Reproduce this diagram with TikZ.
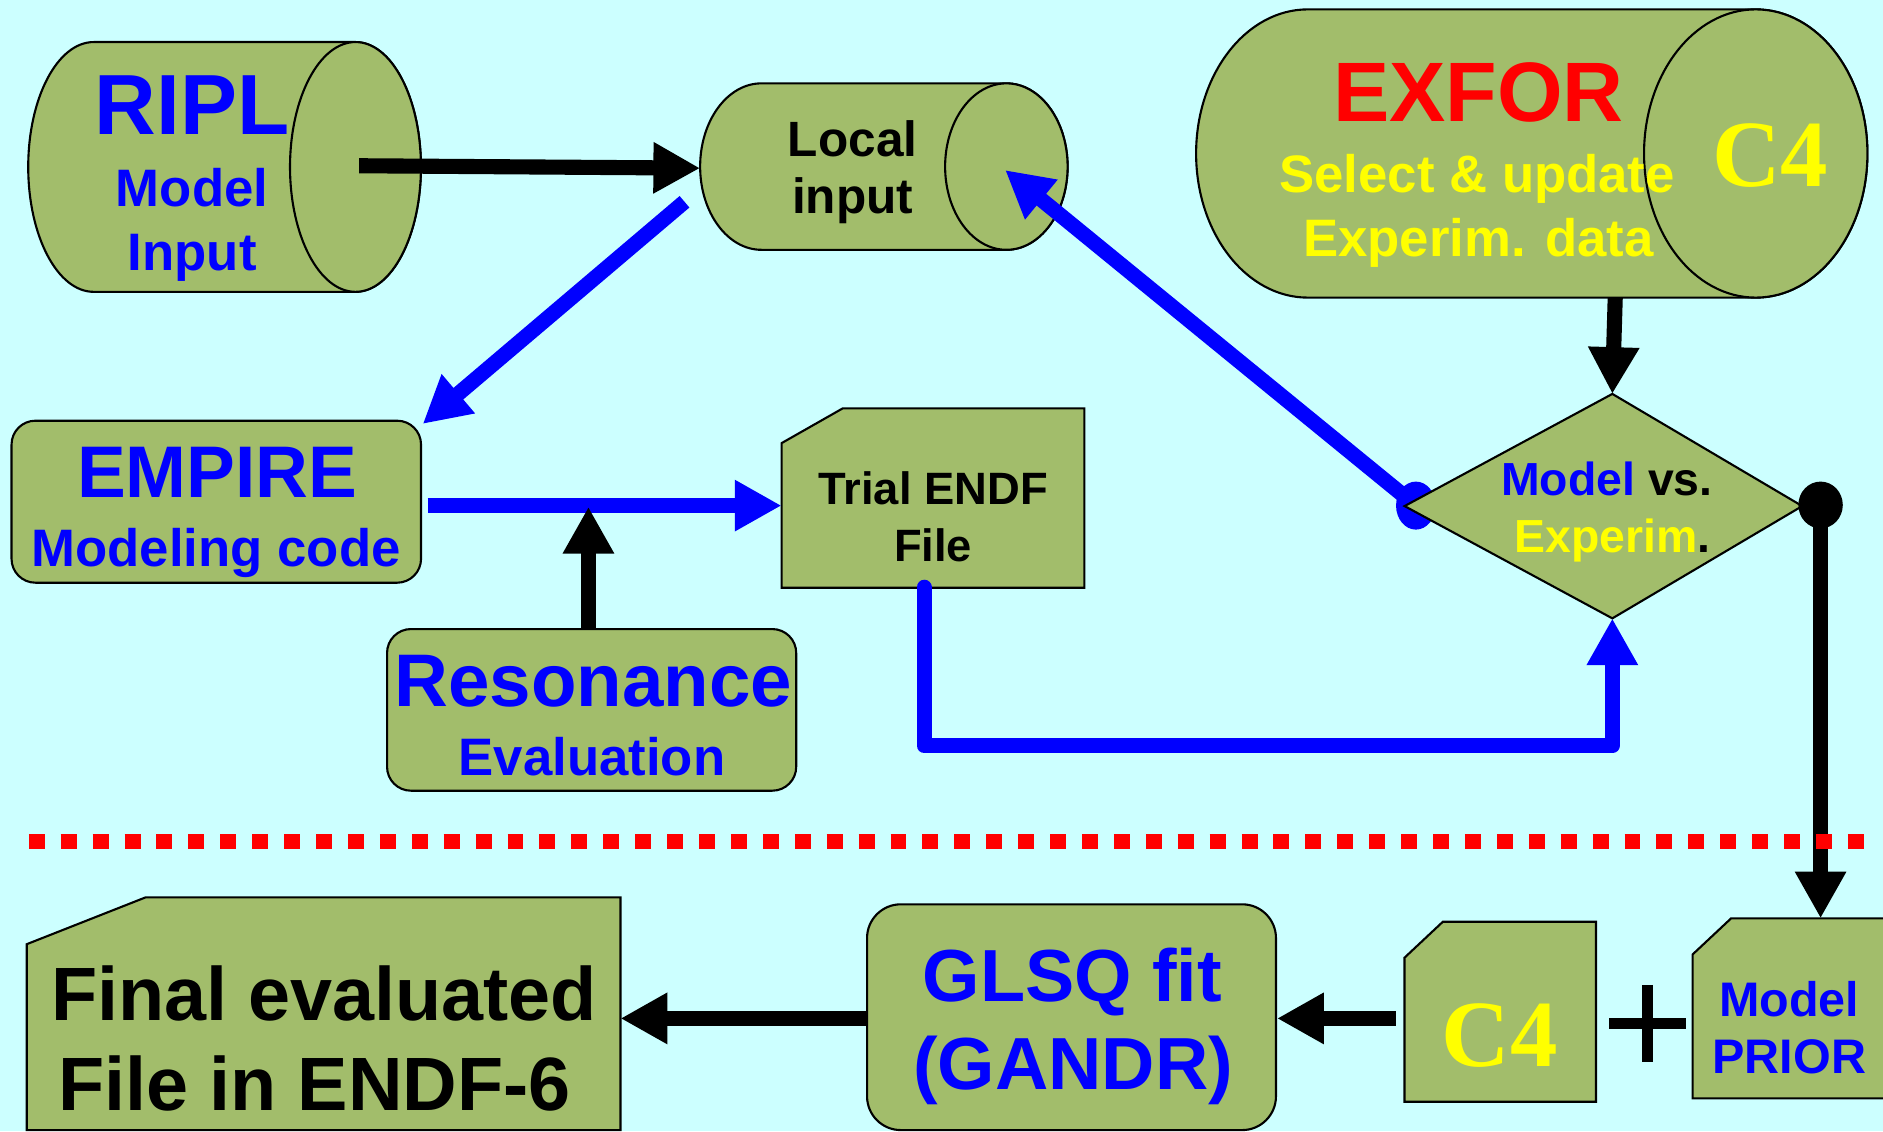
\documentclass[tikz,border=0pt]{standalone}
\usepackage{fontspec}
\setmainfont{Liberation Sans}
\newfontfamily\serifC{Liberation Serif}
\usetikzlibrary{arrows.meta}
\definecolor{bgc}{RGB}{204,255,255}
\definecolor{shapegreen}{RGB}{162,189,107}
\definecolor{pblue}{RGB}{0,0,255}
\definecolor{pred}{RGB}{255,0,0}
\definecolor{pyel}{RGB}{255,255,0}
\newcommand\fs[1]{\bfseries\fontsize{#1}{#1}\selectfont}
\newcommand\drawcyl[5]{%
  \path[shp] (#1,#3-#5) -- (#2,#3-#5) arc[start angle=-90,end angle=90,x radius=#4,y radius=#5]
     -- (#1,#3+#5) arc[start angle=90,end angle=270,x radius=#4,y radius=#5] -- cycle;
  \path[shp] (#2,#3) ellipse[x radius=#4,y radius=#5];}
\newcommand\drawcard[6]{%
  \path[shp] (#1,#2+#6) -- (#1+#5,#2) -- (#3,#2) -- (#3,#4) -- (#1,#4) -- cycle;}
\tikzset{
  shp/.style={fill=shapegreen, draw=black, line width=0.6pt},
  txt/.style={anchor=base, inner sep=0pt},
  ar/.style={line width=4.3pt, -{Triangle[length=13.3pt,width=13.7pt]}},
}
\begin{document}
\begin{tikzpicture}[x={(0.012009cm,0)}, y={(0,-0.012009cm)}]
\fill[bgc] (0,0) rectangle (1568,942);
\useasboundingbox (0,0) rectangle (1568,942);

% ---------- shapes ----------
\drawcyl{78}{296}{139}{54.5}{104}
\drawcyl{634}{838}{138.7}{51}{69.3}
\drawcyl{1089}{1462}{127.8}{93}{120}

\path[shp, rounded corners=6.8pt] (9.6,350.3) rectangle (350.6,485.2);
\path[shp, rounded corners=6.8pt] (322.3,523.8) rectangle (663,658.4);
\path[shp, rounded corners=9.6pt] (722,753) rectangle (1062.5,941);

\drawcard{650.8}{340}{903}{489.4}{51}{29}
\drawcard{22.3}{747.2}{516.7}{941}{99}{39}
\drawcard{1169.5}{767.5}{1329}{917.4}{32}{30}
\drawcard{1409.5}{764.7}{1580}{914.6}{32}{30}

% ---------- coordinates ----------
\coordinate (ripl-out) at (299,138);
\coordinate (local-in) at (583,140);
\coordinate (local-out) at (570,168);
\coordinate (empire-in) at (352,353);
\coordinate (empire-out) at (356,421);
\coordinate (trial-in) at (650.8,421);
\coordinate (res-out) at (490,523.8);
\coordinate (join) at (490,422);
\coordinate (exfor-out) at (1345,248);
\coordinate (diam-top) at (1342.6,328);
\coordinate (diam-left) at (1179,421);
\coordinate (local-end) at (837,141.6);
\coordinate (diam-right) at (1516,420.5);
\coordinate (prior-in) at (1516,764.7);
\coordinate (trial-out) at (769.5,489);
\coordinate (bend1) at (769.5,621);
\coordinate (bend2) at (1342.6,621);
\coordinate (diam-bot) at (1342.6,514.9);
\coordinate (c4-out) at (1162.4,848);
\coordinate (glsq-in) at (1063.4,848);
\coordinate (glsq-out) at (722,848);
\coordinate (final-in) at (516.7,848);
\coordinate (sep-l) at (24,701);
\coordinate (sep-r) at (1560,701);

% connector under the diamond
\fill[pblue] (diam-left) ellipse[x radius=16.5, y radius=20];
\draw[ar, pblue] (diam-left) -- (local-end);

% diamond
\path[shp] (1169.6,421.4) -- (1342.6,328) -- (1500.7,421.4) -- (1342.6,514.9) -- cycle;

% ---------- connectors ----------
\draw[ar, black] (ripl-out) -- (local-in);
\draw[ar, pblue] (local-out) -- (empire-in);
\draw[ar, pblue] (empire-out) -- (trial-in);
\draw[ar, black] (res-out) -- (join);
\draw[ar, black] (exfor-out) -- (diam-top);
\draw[ar, pblue, line cap=round, line join=round] (trial-out) -- (bend1) -- (bend2) -- (diam-bot);
\draw[ar, black] (diam-right) -- (prior-in);
\fill[black] (diam-right) ellipse[x radius=18.5, y radius=19.5];
\draw[ar, black] (c4-out) -- (glsq-in);
\draw[ar, black] (glsq-out) -- (final-in);
\draw[black, line width=3.2pt] (1340,852) -- (1404,852) (1372,820) -- (1372,884);
\draw[pred, line width=4.27pt, dash pattern=on 4.54pt off 4.54pt] (sep-l) -- (sep-r);

% ---------- texts ----------
\node[txt, text=pblue, font=\fs{24.3}] (t-ripl) at (160,112.4) {RIPL};
\node[txt, text=pblue, font=\fs{15}] (t-ripl2) at (160,172) {Model};
\node[txt, text=pblue, font=\fs{15}] (t-ripl3) at (160,225) {Input};

\node[txt, text=black, font=\fs{14.1}] (t-local) at (710,130.5) {Local};
\node[txt, text=black, font=\fs{14.1}] (t-local2) at (710,177.7) {input};

\node[txt, text=pred, font=\fs{24}] (t-exfor) at (1231,101.3) {EXFOR};
\node[txt, text=pyel, font=\fs{15}] (t-exfor2) at (1230,160.5) {Select \& update};
\node[txt, text=pyel, font=\fs{15}] (t-exfor3) at (1231,213.7) {Experim. data};
\node[txt, text=pyel, font=\serifC\fs{27}] (t-c4a) at (1474,155.4) {C4};

\node[txt, text=pblue, font=\fs{20.8}] (t-empire) at (181,414) {EMPIRE};
\node[txt, text=pblue, font=\fs{15}] (t-empire2) at (180,471.9) {Modeling code};

\node[txt, text=black, font=\fs{12.9}] (t-trial) at (777,419.7) {Trial ENDF};
\node[txt, text=black, font=\fs{12.9}] (t-trial2) at (777,467.7) {File};

\node[txt, text=black, font=\fs{13.2}] (t-mvse) at (1338,412.2) {{\color{pblue}Model} vs.};
\node[txt, text=black, font=\fs{13.2}] (t-mvse2) at (1343,460) {{\color{pyel}Experim}.};

\node[txt, text=pblue, font=\fs{21.2}] (t-res) at (494,588) {Resonance};
\node[txt, text=pblue, font=\fs{15}] (t-res2) at (493,645.4) {Evaluation};

\node[txt, text=black, font=\fs{21.5}] (t-final) at (270,850) {Final evaluated};
\node[txt, text=black, font=\fs{21.5}] (t-final2) at (262,924.3) {File in ENDF-6};

\node[txt, text=pblue, font=\fs{21}] (t-glsq) at (893,833.6) {GLSQ fit};
\node[txt, text=pblue, font=\fs{21}] (t-glsq2) at (893.5,907.6) {(GANDR)};

\node[txt, text=pyel, font=\serifC\fs{27}] (t-c4b) at (1249,888.2) {C4};

\node[txt, text=pblue, font=\fs{13.8}] (t-prior) at (1490,846.6) {Model};
\node[txt, text=pblue, font=\fs{13.8}] (t-prior2) at (1490,893.8) {PRIOR};
\end{tikzpicture}
\end{document}
